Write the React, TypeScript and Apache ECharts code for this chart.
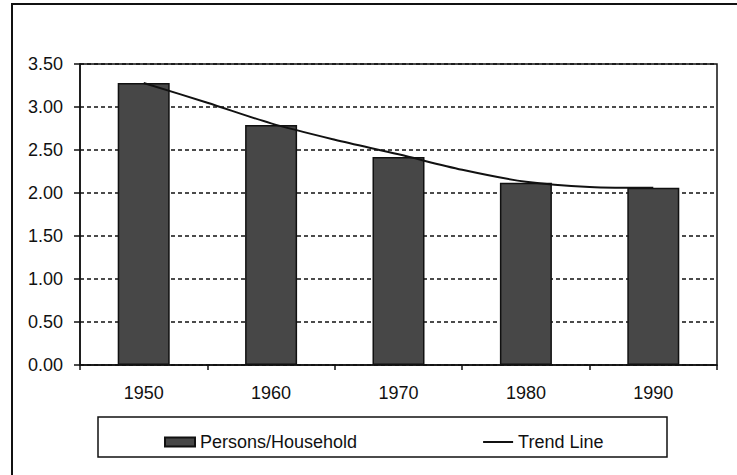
import React, { useEffect, useRef } from "react";
import * as echarts from "echarts";

const categories = ["1950", "1960", "1970", "1980", "1990"];
const personsPerHousehold = [3.28, 2.79, 2.42, 2.12, 2.06];
const trendYears = [1950, 1955, 1960, 1965, 1970, 1975, 1980, 1985, 1990];
const trendValues = [3.28, 3.05, 2.81, 2.62, 2.45, 2.27, 2.13, 2.07, 2.06];

const FONT = "'Liberation Sans', Arial, sans-serif";

export default function App() {
  const ref = useRef<HTMLDivElement>(null);
  useEffect(() => {
    if (!ref.current) return;
    const chart = echarts.init(ref.current, undefined, { renderer: "svg" });
    chart.setOption({
      animation: false,
      backgroundColor: "#ffffff",
      textStyle: { fontFamily: FONT },
      grid: {
        left: 80,
        top: 64,
        right: 20,
        bottom: 110,
        show: true,
        borderColor: "#111",
        borderWidth: 1.5,
        backgroundColor: "transparent",
      },
      graphic: [
        {
          type: "rect",
          shape: { x: 12, y: 4, width: 740, height: 472 },
          style: { fill: "none", stroke: "#111", lineWidth: 2 },
          silent: true,
        },
        {
          type: "rect",
          shape: { x: 98, y: 417, width: 569, height: 40 },
          style: { fill: "none", stroke: "#111", lineWidth: 1.5 },
          silent: true,
        },
      ],
      legend: {
        left: 159,
        top: 428,
        itemGap: 125,
        itemWidth: 30,
        itemHeight: 9,
        textStyle: { fontFamily: FONT, fontSize: 18, color: "#111" },
        data: [
          { name: "Persons/Household", icon: "rect" },
          { name: "Trend Line", itemStyle: { opacity: 0 } },
        ],
      },
      xAxis: [
        {
          type: "category",
          data: categories,
          axisLine: { lineStyle: { color: "#111", width: 1.5 } },
          axisTick: { show: true, length: 5, lineStyle: { color: "#111", width: 1.5 } },
          axisLabel: { color: "#111", fontSize: 18, fontFamily: FONT, margin: 19 },
        },
        {
          type: "value",
          min: 1945,
          max: 1995,
          show: false,
        },
      ],
      yAxis: {
        type: "value",
        min: 0,
        max: 3.5,
        interval: 0.5,
        axisLine: { show: true, lineStyle: { color: "#111", width: 1.5 } },
        axisTick: { show: true, length: 6, lineStyle: { color: "#111", width: 1.5 } },
        axisLabel: {
          color: "#111",
          fontSize: 18,
          fontFamily: FONT,
          margin: 17,
          formatter: (v: number) => v.toFixed(2),
        },
        splitLine: {
          show: true,
          lineStyle: { color: "#111", type: [4, 3], width: 1.5 },
        },
      },
      series: [
        {
          name: "Persons/Household",
          type: "bar",
          data: personsPerHousehold,
          barWidth: 52,
          itemStyle: { color: "#474747", borderColor: "#111", borderWidth: 1.5 },
          xAxisIndex: 0,
        },
        {
          name: "Trend Line",
          type: "line",
          xAxisIndex: 1,
          data: trendYears.map((y, i) => [y, trendValues[i]]),
          smooth: 0.3,
          symbol: "none",
          itemStyle: { color: "#111" },
          lineStyle: { color: "#111", width: 2 },
        },
      ],
    });
    return () => chart.dispose();
  }, []);
  return <div ref={ref} style={{ width: 737, height: 475, position: "absolute", left: 0, top: 0 }} />;
}
